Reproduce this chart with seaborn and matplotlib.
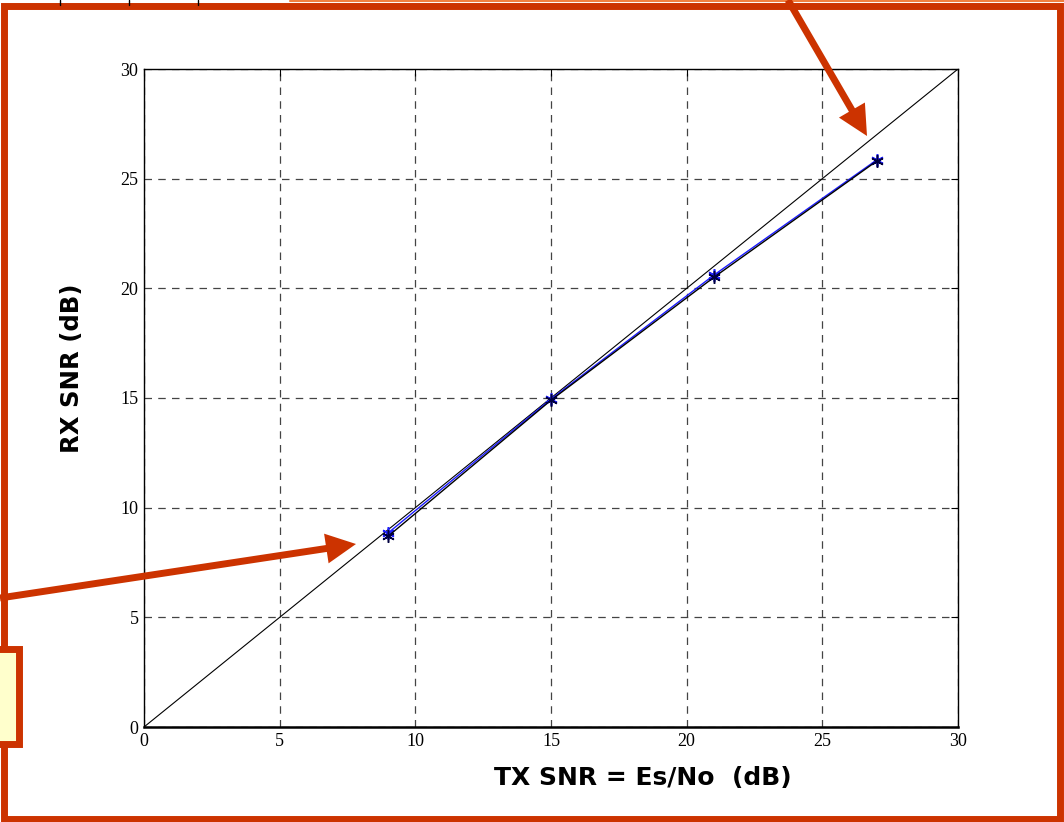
import matplotlib
matplotlib.use("Agg")
import matplotlib.pyplot as plt
import seaborn as sns
import pandas as pd
import numpy as np
from matplotlib.patches import Rectangle, Polygon
from matplotlib.lines import Line2D

# ---- data ----
tx_snr = [9, 15, 21, 27]
rx_snr_black = [8.7, 14.9, 20.5, 25.8]
rx_snr_blue = [8.85, 14.95, 20.6, 25.85]
ideal_x = [0, 30]
ideal_y = [0, 30]
x_ticks = [0, 5, 10, 15, 20, 25, 30]
y_ticks = [0, 5, 10, 15, 20, 25, 30]
x_label = "TX SNR = Es/No  (dB)"
y_label = "RX SNR (dB)"

sns.set_style("white")
plt.rcParams['font.family'] = ['DejaVu Sans']
plt.rcParams['text.color'] = 'black'

W, H = 1064, 822
fig = plt.figure(figsize=(W / 100, H / 100), dpi=100)
fig.patch.set_facecolor("white")

def fx(px):
    return px / W

def fy(py):
    return 1 - py / H

ax = fig.add_axes([fx(144), fy(727), fx(958) - fx(144), fy(69) - fy(727)])

df_ideal = pd.DataFrame({"x": ideal_x, "y": ideal_y})
df_black = pd.DataFrame({"x": tx_snr, "y": rx_snr_black})
df_blue = pd.DataFrame({"x": tx_snr, "y": rx_snr_blue})

sns.lineplot(data=df_ideal, x="x", y="y", ax=ax, color="black", linewidth=0.8)
sns.lineplot(data=df_blue, x="x", y="y", ax=ax, color="#1a1aff", linewidth=1.0,
             marker=(6, 2, 0), markersize=9, markeredgecolor="#2020ff", markeredgewidth=1.2)
sns.lineplot(data=df_black, x="x", y="y", ax=ax, color="black", linewidth=1.0,
             marker=(6, 2, 0), markersize=9, markeredgecolor="#000040", markeredgewidth=1.1)

ax.set_xlim(0, 30)
ax.set_ylim(0, 30)
ax.set_xticks(x_ticks)
ax.set_yticks(y_ticks)
ax.set_xticklabels([str(t) for t in x_ticks], fontsize=13, family="Liberation Serif")
ax.set_yticklabels([str(t) for t in y_ticks], fontsize=13, family="Liberation Serif")
ax.tick_params(direction="in", length=5, width=0.8, top=True, right=True, pad=4,
               colors="black", labelcolor="black")
ax.grid(True, linestyle=(0, (6, 5)), color="#444444", linewidth=0.9)
for sp in ax.spines.values():
    sp.set_color("black")
    sp.set_linewidth(1.0)
ax.spines["bottom"].set_linewidth(1.8)
ax.set_xlabel("")
ax.set_ylabel("")

fig.text(fx(643), fy(778), x_label, fontsize=18, fontweight="bold", ha="center", va="center",
         color="black")
fig.text(fx(72), fy(368), y_label, fontsize=17.6, fontweight="bold", ha="center", va="center",
         rotation=90, color="black")

border = "#CC3300"
# top-left table fragment
for xp in [60, 129, 198]:
    fig.add_artist(Line2D([fx(xp), fx(xp)], [fy(0), fy(5)], color="black", lw=1.0))

# main frame
fig.add_artist(Rectangle((fx(4), fy(819)), fx(1060) - fx(4), fy(6) - fy(819),
                         transform=fig.transFigure, fill=False, edgecolor=border, lw=5,
                         joinstyle="miter"))
fig.add_artist(Line2D([fx(290), fx(1064)], [fy(1), fy(1)], color="#F08040", lw=1.5))

# yellow box at left
fig.add_artist(Rectangle((fx(-20), fy(744)), fx(19) - fx(-20), fy(649) - fy(744),
                         transform=fig.transFigure, facecolor="#FFFFCC", edgecolor=border, lw=5,
                         joinstyle="miter"))

# arrows (straight shaft + sharp triangular head), in pixel coordinates
def arrow(x0, y0, x1, y1, head_len=30, head_half=15):
    d = np.array([x1 - x0, y1 - y0], dtype=float)
    L = np.hypot(*d)
    u = d / L
    n = np.array([-u[1], u[0]])
    base = np.array([x1, y1]) - u * head_len
    fig.add_artist(Line2D([fx(x0), fx(base[0] + u[0] * 2)], [fy(y0), fy(base[1] + u[1] * 2)],
                          color=border, lw=5, solid_capstyle="butt"))
    p1 = base + n * head_half
    p2 = base - n * head_half
    pts = [(fx(x1), fy(y1)), (fx(p1[0]), fy(p1[1])), (fx(p2[0]), fy(p2[1]))]
    fig.add_artist(Polygon(pts, closed=True, transform=fig.transFigure,
                           facecolor=border, edgecolor="none"))

arrow(0, 598, 356, 544)
arrow(788, 0, 867, 136)

fig.savefig("out.png", dpi=100, facecolor="white")
